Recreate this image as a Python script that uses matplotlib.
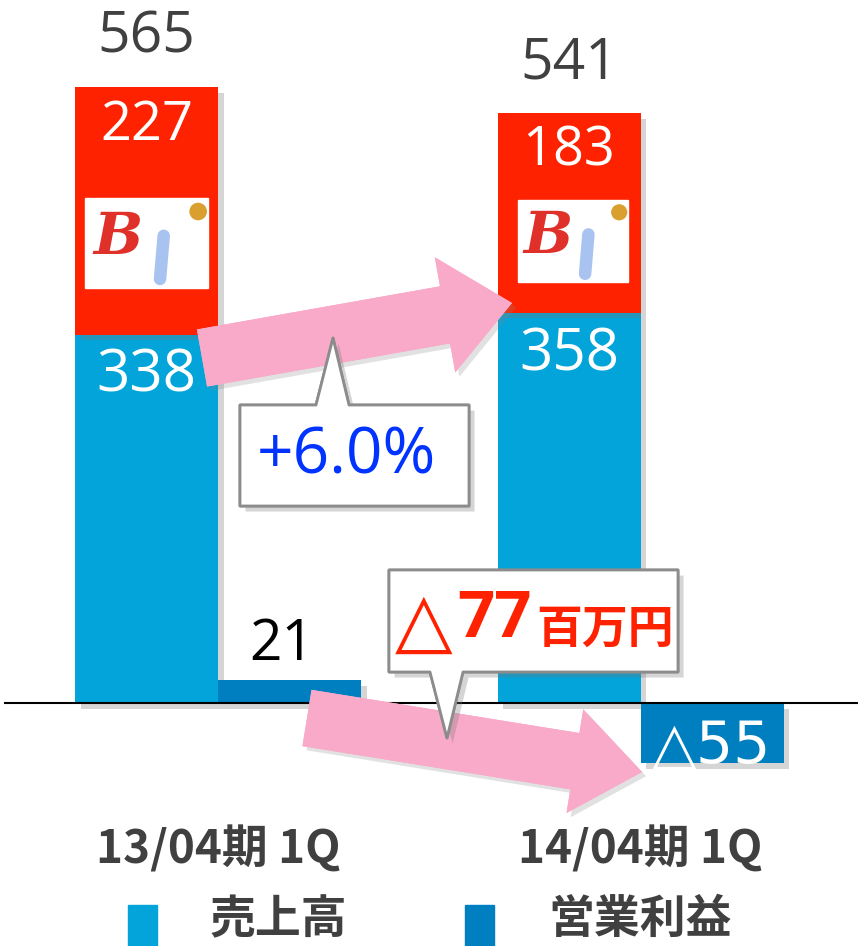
import matplotlib
matplotlib.use('Agg')
import matplotlib.pyplot as plt
import matplotlib.patheffects as pe
from matplotlib.patches import Rectangle, Polygon, FancyArrow, Circle
import numpy as np

plt.rcParams['font.family'] = ['Noto Sans CJK JP', 'DejaVu Sans']

periods = ['13/04期 1Q', '14/04期 1Q']
sales_core = [338, 358]
sales_bi = [227, 183]
op_profit = [21, -55]
legend_labels = ['売上高', '営業利益']

C_SALES = '#02a4d9'
C_BI = '#ff2200'
C_OP = '#007fc0'
C_PINK = '#f9aac8'
C_GRAY = '#404040'

W, H = 858, 946
fig = plt.figure(figsize=(W / 100, H / 100), dpi=100)

# main axes in data units, whole figure
px_per_unit = 1.09
base_px = 703          # baseline, pixels from top
cat_px = 422.5         # distance between categories
x0_px = 146.5
ax = fig.add_axes([0, 0, 1, 1])
ax.set_xlim(-x0_px / cat_px, (W - x0_px) / cat_px)
ax.set_ylim(-(H - base_px) / px_per_unit, base_px / px_per_unit)
ax.axis('off')

x = np.arange(len(periods))
w = 143 / cat_px
shadow = [pe.withSimplePatchShadow(offset=(4, -4), shadow_rgbFace='#777777', alpha=0.3), pe.Normal()]

b1 = ax.bar(x, sales_core, w, color=C_SALES, zorder=2)
b2 = ax.bar(x, sales_bi, w, bottom=sales_core, color=C_BI, zorder=2)
b3 = ax.bar(x + w, op_profit, w, color=C_OP, zorder=2)
for bars in (b1, b2, b3):
    for p in bars:
        p.set_path_effects(shadow)

ax.plot([5 / cat_px - x0_px / cat_px, (W - x0_px) / cat_px], [0, 0], color='black', lw=1.5, zorder=3)

num_font = ['Open Sans', 'DejaVu Sans']
totals = [a + b for a, b in zip(sales_core, sales_bi)]
for i in x:
    ax.annotate(str(totals[i]), (x[i], totals[i]), xytext=(0, 49), textcoords='offset pixels',
                ha='center', va='center', fontsize=41, color=C_GRAY, family=num_font)
    ax.annotate(str(sales_bi[i]), (x[i], totals[i]), xytext=(0, -38), textcoords='offset pixels',
                ha='center', va='center', fontsize=39, color='white', family=num_font)
    ax.annotate(str(sales_core[i]), (x[i], sales_core[i]), xytext=(0, -42), textcoords='offset pixels',
                ha='center', va='center', fontsize=42, color='white', family=num_font)
    ax.text(x[i] + w / 2, -(850 - base_px) / px_per_unit, periods[i], ha='center', va='center',
            fontsize=33, color=C_GRAY, fontweight='bold')

# operating profit labels
ax.annotate(str(op_profit[0]), (x[0] + w, op_profit[0]), xytext=(-8, 35), textcoords='offset pixels',
            ha='center', va='center', fontsize=41, color='black', family=num_font)
ax.annotate('△' + str(abs(op_profit[1])), (x[1] + w, op_profit[1]), xytext=(0, 17), textcoords='offset pixels',
            ha='center', va='center', fontsize=42, color='white', family=['DejaVu Sans'])

# overlay axes in pixel units for arrows, callouts, logo, legend
ov = fig.add_axes([0, 0, 1, 1], zorder=5)
ov.set_xlim(0, W)
ov.set_ylim(H, 0)
ov.axis('off')
ov.patch.set_alpha(0)


def logo(x0, y0, x1, y1):
    ov.add_patch(Rectangle((x0, y0), x1 - x0, y1 - y0, color='white', zorder=1))
    ww, hh = x1 - x0, y1 - y0
    ov.text(x0 + ww * 0.27, y0 + hh * 0.45, 'B', color='#e0302a', fontsize=42, fontstyle='italic',
            fontweight='bold', ha='center', va='center', family=['DejaVu Serif'], zorder=2)
    ov.plot([x0 + ww * 0.64, x0 + ww * 0.61], [y0 + hh * 0.42, y0 + hh * 0.9], color='#a9c3f0',
            lw=9, solid_capstyle='round', zorder=2)
    ov.add_patch(Circle((x0 + ww * 0.92, y0 + hh * 0.15), hh * 0.09, color='#d9a030', zorder=2))


logo(85, 198, 208, 288)
logo(518, 200, 628, 282)


def arrow(tail, tip, width, head_w, head_l):
    dx, dy = tip[0] - tail[0], tip[1] - tail[1]
    a = FancyArrow(tail[0], tail[1], dx, dy, width=width, head_width=head_w, head_length=head_l,
                   length_includes_head=True, color=C_PINK, lw=0, zorder=3)
    a.set_path_effects([pe.withSimplePatchShadow(offset=(3, -3), shadow_rgbFace='#888888', alpha=0.25), pe.Normal()])
    ov.add_patch(a)


arrow((202, 358), (512, 303), 58, 117, 68)
arrow((307, 718), (642, 772), 57, 105, 68)


def callout(x0, y0, x1, y1, base_l, base_r, tip, up=True):
    if up:
        pts = [(x0, y0), (base_l, y0), tip, (base_r, y0), (x1, y0), (x1, y1), (x0, y1)]
    else:
        pts = [(x0, y0), (x1, y0), (x1, y1), (base_r, y1), tip, (base_l, y1), (x0, y1)]
    poly = Polygon(pts, closed=True, facecolor='white', edgecolor='#8c8c8c', lw=2, joinstyle='round', zorder=4)
    poly.set_path_effects([pe.withSimplePatchShadow(offset=(4, -4), shadow_rgbFace='#777777', alpha=0.3), pe.Normal()])
    ov.add_patch(poly)


callout(240, 405, 469, 506, 316, 349, (333, 338), up=True)
ov.text(346, 456, '+6.0%', color='#0033ff', fontsize=46, ha='center', va='center', family=num_font, zorder=5)

callout(389, 570, 678, 672, 430, 463, (447, 738), up=False)
ov.text(395, 624, '△', color=C_BI, fontsize=54, ha='left', va='center', family=['DejaVu Sans'], zorder=5)
ov.text(457, 620, '77', color=C_BI, fontsize=47, ha='left', va='center', fontweight='bold',
        family=num_font, zorder=5)
ov.text(536, 630, '百万円', color=C_BI, fontsize=33, ha='left', va='center', fontweight='bold', zorder=5)

# legend
for lx, col, lab, tx in [(128, C_SALES, legend_labels[0], 210), (465, C_OP, legend_labels[1], 548)]:
    ov.add_patch(Rectangle((lx, 905), 29, 45, color=col, zorder=2))
    ov.text(tx, 920, lab, fontsize=33, color=C_GRAY, fontweight='bold', ha='left', va='center')

fig.savefig('out.png', dpi=100)
